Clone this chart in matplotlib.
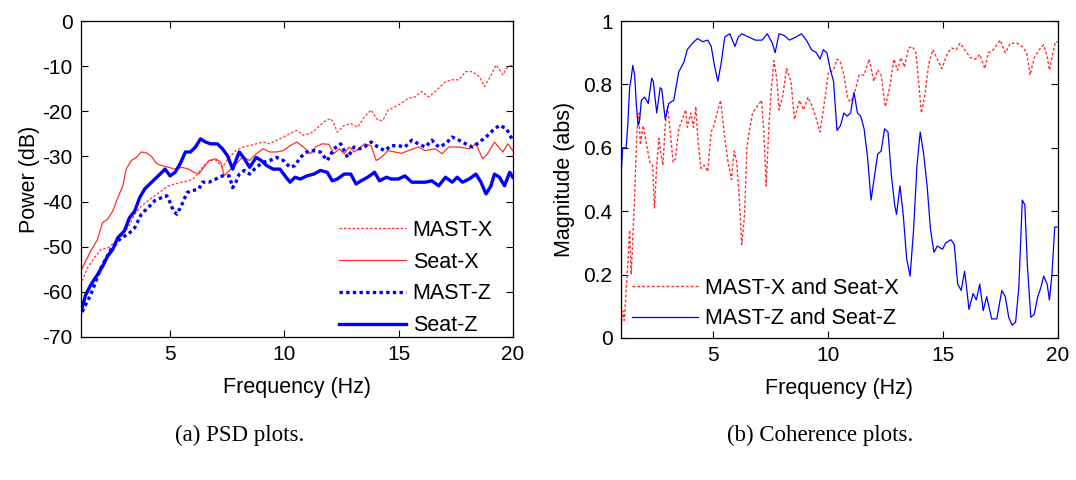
import matplotlib
matplotlib.use("Agg")
import matplotlib.pyplot as plt

# ---- (a) PSD data, dB vs Hz ----
seat_x_f = [1.08, 1.3, 1.52, 1.82, 2.04, 2.26, 2.49, 2.71, 2.93, 3.08, 3.3, 3.52, 3.74, 3.96, 4.19,
            4.41, 4.63, 4.93, 5.22, 5.52, 5.81, 6.04, 6.26, 6.48, 6.7, 7.0, 7.22, 7.37, 7.51, 7.74,
            7.96, 8.18, 8.48, 8.77, 9.07, 9.36, 9.66, 9.96, 10.25, 10.55, 10.84, 11.14, 11.36, 11.66, 11.95,
            12.17, 12.4, 12.62, 12.84, 13.06, 13.28, 13.5, 13.8, 14.02, 14.25, 14.54, 14.84, 15.13, 15.43, 15.87,
            16.17, 16.61, 16.91, 17.2, 17.65, 18.09, 18.39, 18.68, 18.9, 19.2, 19.57, 19.79, 20]
seat_x_db = [-55.5, -53.2, -51, -48.4, -44.7, -43.9, -42.1, -39.1, -36.5, -32.8, -30.9, -30.2, -29, -29.2, -30,
             -31.6, -32, -32.4, -32.8, -32.4, -32.8, -33.5, -33.9, -32.4, -30.9, -30.5, -31.3, -34.3, -33.5, -32.4,
             -31.3, -30.1, -30.9, -29.4, -28.3, -29, -29, -28.7, -27.6, -26.8, -27.9, -29.4, -27.9, -27.2, -27.3,
             -29.4, -28.3, -29.4, -27.9, -29, -28.3, -27.2, -27.6, -30.9, -30.2, -28.7, -29, -29.3, -28.7, -27.9,
             -28.7, -28.3, -29.4, -27.9, -27.9, -28.3, -27.2, -30.5, -29.4, -26.8, -29, -27.2, -28.7]

mast_x_f = [1.08, 1.38, 1.67, 1.97, 2.26, 2.56, 2.86, 3.15, 3.45, 3.74, 4.04, 4.33, 4.63, 4.93, 5.22,
            5.52, 5.81, 6.11, 6.41, 6.70, 7.00, 7.29, 7.59, 7.88, 8.18, 8.48, 8.77, 9.07, 9.36, 9.66,
            9.96, 10.25, 10.55, 10.84, 11.14, 11.43, 11.73, 12.03, 12.17, 12.32, 12.62, 12.91, 13.21, 13.51, 13.8,
            14.1, 14.32, 14.54, 14.84, 15.13, 15.43, 15.72, 16.02, 16.32, 16.61, 17.06, 17.35, 17.65, 17.94, 18.24,
            18.54, 18.76, 18.98, 19.27, 19.57, 19.79, 20]
mast_x_db = [-58.5, -54.7, -52.5, -50.6, -50.3, -49.1, -47.7, -45.8, -42.8, -41, -39.8, -38.7, -37.6, -36.5, -36.1,
             -35.7, -35.4, -34.6, -32.4, -30.9, -30.8, -32.4, -30.2, -28.7, -27.9, -27.6, -27.2, -26.8, -27.2, -26.4,
             -25.7, -24.9, -24.2, -25.3, -24.9, -23.8, -22.3, -21.6, -22.7, -24.6, -23.1, -22.7, -23.5, -21.2, -19.7,
             -22, -22, -19.7, -19, -18.2, -17.1, -16.8, -15.6, -16.8, -15.6, -13.4, -13, -13, -11.2, -11.2,
             -12.3, -14.5, -12.7, -9.7, -11.9, -10.1, -9.7]

mast_z_f = [1.15, 1.52, 1.97, 2.41, 2.86, 3.15, 3.45, 3.74, 4.04, 4.33, 4.63, 4.85, 5.0, 5.15, 5.3,
            5.52, 5.74, 5.96, 6.26, 6.41, 6.7, 7.0, 7.29, 7.59, 7.74, 7.88, 8.03, 8.25, 8.48, 8.77,
            9.07, 9.36, 9.66, 9.96, 10.25, 10.47, 10.7, 10.99, 11.29, 11.58, 11.88, 12.17, 12.47, 12.77, 13.06,
            13.28, 13.51, 13.8, 14.1, 14.39, 14.69, 14.99, 15.28, 15.58, 15.87, 16.17, 16.46, 16.76, 17.06, 17.35,
            17.65, 17.94, 18.24, 18.54, 18.83, 19.13, 19.42, 19.72, 20]
mast_z_db = [-64.4, -60.7, -54.7, -50.6, -48, -47.3, -45.8, -42.8, -41.3, -39.8, -39.1, -38.7, -40.2, -42.1, -42.8,
             -40.6, -38, -37.6, -37.2, -35.7, -35.7, -35, -34.3, -34.3, -36.9, -35.7, -33.9, -33.1, -33.9, -32.4,
             -31.3, -30.9, -30.2, -30.9, -32.4, -32, -30.2, -29, -28.7, -29, -30.9, -28.3, -27.2, -30.2, -27.9,
             -28.3, -27.9, -26.8, -27.9, -28.7, -27.6, -27.6, -27.9, -26.4, -27.2, -27.9, -26.4, -27.9, -27.2, -25.7,
             -26.4, -27.2, -27.9, -26.8, -25.7, -24.2, -23.1, -23.8, -26.4]

seat_z_f = [1.08, 1.3, 1.52, 1.82, 2.04, 2.26, 2.49, 2.71, 3.0, 3.22, 3.45, 3.67, 3.89, 4.19, 4.48,
            4.78, 5.0, 5.22, 5.44, 5.67, 5.89, 6.11, 6.33, 6.55, 6.78, 7.07, 7.29, 7.51, 7.74, 7.88,
            8.03, 8.25, 8.48, 8.77, 8.99, 9.22, 9.51, 9.81, 10.03, 10.25, 10.47, 10.7, 10.99, 11.29, 11.58,
            11.88, 12.1, 12.32, 12.62, 12.91, 13.14, 13.36, 13.65, 13.95, 14.17, 14.47, 14.69, 14.99, 15.28, 15.58,
            15.87, 16.17, 16.46, 16.76, 17.06, 17.35, 17.57, 17.8, 18.09, 18.39, 18.61, 18.83, 19.05, 19.2, 19.42,
            19.64, 19.87, 20]
seat_z_db = [-64.8, -60.7, -58.5, -56.2, -54.4, -52.1, -50.6, -48, -46.5, -43.6, -42.1, -39.1, -37.2, -35.7, -34.3,
             -32.8, -34.3, -33.5, -31.6, -29, -29, -27.9, -26.1, -26.8, -27.2, -27.2, -28.3, -29.8, -32.8, -30.9,
             -29, -30.5, -32.4, -30.2, -30.9, -32, -32.8, -32.8, -34.3, -35.7, -34.6, -35, -34.3, -33.9, -33.1,
             -33.5, -35.4, -35, -33.9, -33.9, -36.1, -35.4, -34.6, -33.5, -35.4, -34.6, -35, -35, -34.3, -35.7,
             -35.7, -35.7, -35.4, -36.5, -34.6, -35.7, -34.6, -35.7, -35, -33.9, -35.7, -38.3, -36.5, -33.9, -34.6,
             -36.5, -33.5, -34.6]

# ---- (b) coherence data ----
coh_z_f = [1.0, 1.08, 1.15, 1.23, 1.3, 1.38, 1.45, 1.52, 1.6, 1.67, 1.75, 1.82, 1.89, 2.04, 2.19,
           2.34, 2.41, 2.56, 2.71, 2.78, 2.93, 3.08, 3.3, 3.52, 3.74, 3.89, 4.11, 4.33, 4.56, 4.78,
           4.93, 5.07, 5.22, 5.37, 5.52, 5.74, 5.96, 6.11, 6.26, 6.55, 6.85, 7.14, 7.37, 7.59, 7.71,
           7.88, 8.1, 8.33, 8.62, 8.85, 9.07, 9.29, 9.51, 9.66, 9.81, 9.96, 10.1, 10.25, 10.4, 10.55,
           10.7, 10.84, 10.99, 11.14, 11.29, 11.43, 11.58, 11.73, 11.88, 12.03, 12.17, 12.32, 12.47, 12.62, 12.77,
           12.91, 12.99, 13.14, 13.28, 13.43, 13.58, 13.73, 13.88, 14.02, 14.17, 14.32, 14.47, 14.62, 14.76, 14.99,
           15.13, 15.36, 15.5, 15.65, 15.8, 15.95, 16.02, 16.14, 16.32, 16.46, 16.61, 16.76, 16.91, 17.13, 17.35,
           17.57, 17.72, 17.87, 18.02, 18.17, 18.31, 18.46, 18.57, 18.68, 18.83, 18.98, 19.13, 19.27, 19.39, 19.54,
           19.64, 19.75, 19.87, 20]
coh_z = [0.50, 0.60, 0.60, 0.60, 0.67, 0.79, 0.82, 0.86, 0.83, 0.74, 0.67, 0.69, 0.75, 0.76, 0.74,
         0.82, 0.81, 0.71, 0.79, 0.785, 0.69, 0.74, 0.75, 0.84, 0.87, 0.91, 0.93, 0.945, 0.935, 0.94,
         0.92, 0.86, 0.81, 0.87, 0.95, 0.96, 0.92, 0.95, 0.96, 0.95, 0.94, 0.94, 0.96, 0.93, 0.90,
         0.96, 0.955, 0.94, 0.95, 0.96, 0.94, 0.91, 0.90, 0.88, 0.91, 0.90, 0.85, 0.81, 0.655, 0.67,
         0.71, 0.70, 0.71, 0.775, 0.71, 0.70, 0.66, 0.57, 0.435, 0.51, 0.58, 0.59, 0.66, 0.65, 0.51,
         0.42, 0.39, 0.48, 0.39, 0.25, 0.195, 0.34, 0.545, 0.65, 0.58, 0.48, 0.34, 0.27, 0.29, 0.28,
         0.30, 0.31, 0.295, 0.17, 0.15, 0.21, 0.17, 0.09, 0.14, 0.12, 0.17, 0.086, 0.13, 0.06, 0.06,
         0.15, 0.13, 0.065, 0.04, 0.05, 0.16, 0.435, 0.42, 0.23, 0.065, 0.075, 0.13, 0.16, 0.195, 0.17,
         0.12, 0.20, 0.35, 0.35]

coh_x_f = [1.0, 1.08, 1.15, 1.23, 1.3, 1.38, 1.45, 1.52, 1.6, 1.7, 1.78, 1.85, 1.97, 2.12, 2.26,
           2.38, 2.46, 2.56, 2.66, 2.74, 2.83, 2.93, 3.03, 3.15, 3.27, 3.37, 3.52, 3.67, 3.82, 3.89,
           4.04, 4.16, 4.26, 4.36, 4.48, 4.63, 4.78, 4.93, 5.07, 5.22, 5.34, 5.49, 5.64, 5.81, 5.93,
           6.04, 6.15, 6.26, 6.38, 6.48, 6.58, 6.73, 6.92, 7.12, 7.22, 7.32, 7.44, 7.56, 7.66, 7.78,
           7.88, 8.03, 8.21, 8.4, 8.55, 8.77, 8.95, 9.14, 9.33, 9.51, 9.66, 9.81, 10.03, 10.25, 10.4,
           10.55, 10.7, 10.87, 10.99, 11.14, 11.36, 11.58, 11.8, 12.0, 12.17, 12.32, 12.5, 12.69, 12.88, 13.03,
           13.18, 13.33, 13.51, 13.68, 13.83, 13.95, 14.07, 14.22, 14.39, 14.57, 14.76, 14.96, 15.21, 15.4, 15.58,
           15.75, 15.95, 16.2, 16.43, 16.61, 16.83, 16.98, 17.2, 17.5, 17.72, 17.94, 18.24, 18.46, 18.65, 18.8,
           18.98, 19.2, 19.39, 19.54, 19.64, 19.79, 19.9, 20]
coh_x = [0.02, 0.085, 0.055, 0.15, 0.23, 0.34, 0.20, 0.32, 0.45, 0.65, 0.71, 0.61, 0.67, 0.61, 0.555,
         0.545, 0.41, 0.545, 0.63, 0.58, 0.545, 0.67, 0.73, 0.65, 0.555, 0.565, 0.66, 0.69, 0.72, 0.665,
         0.71, 0.665, 0.73, 0.62, 0.535, 0.545, 0.525, 0.65, 0.675, 0.72, 0.75, 0.65, 0.565, 0.50, 0.59,
         0.555, 0.44, 0.295, 0.39, 0.60, 0.65, 0.71, 0.73, 0.75, 0.65, 0.48, 0.67, 0.80, 0.875, 0.82,
         0.72, 0.76, 0.85, 0.81, 0.69, 0.75, 0.72, 0.76, 0.73, 0.69, 0.65, 0.72, 0.84, 0.845, 0.88,
         0.87, 0.83, 0.755, 0.745, 0.765, 0.83, 0.83, 0.88, 0.81, 0.845, 0.83, 0.73, 0.79, 0.88, 0.845,
         0.885, 0.855, 0.915, 0.92, 0.90, 0.81, 0.71, 0.765, 0.865, 0.91, 0.88, 0.85, 0.90, 0.915, 0.91,
         0.93, 0.91, 0.885, 0.88, 0.895, 0.85, 0.90, 0.91, 0.94, 0.90, 0.93, 0.93, 0.92, 0.90, 0.83,
         0.885, 0.91, 0.925, 0.89, 0.845, 0.90, 0.935, 0.935]

plt.rcParams['font.family'] = ['Liberation Sans', 'DejaVu Sans']
plt.rcParams['axes.unicode_minus'] = False

fig = plt.figure(figsize=(10.76, 4.8), dpi=100)

def style_axes(ax):
    ax.tick_params(direction='in', top=True, right=True, length=5, labelsize=15, pad=6)
    for s in ax.spines.values():
        s.set_linewidth(0.9)

# (a) PSD
ax1 = fig.add_axes([0.0753, 0.298, 0.4012, 0.658])
ax1.plot(mast_x_f, mast_x_db, color='#ff3030', lw=0.9, linestyle=(0, (2, 1.5)), label='MAST-X')
ax1.plot(seat_x_f, seat_x_db, color='#ff3030', lw=0.9, label='Seat-X')
ax1.plot(mast_z_f, mast_z_db, color='#0000ff', lw=2.4, linestyle=(0, (1, 1)), label='MAST-Z')
ax1.plot(seat_z_f, seat_z_db, color='#0000ff', lw=2.4, label='Seat-Z')
ax1.set_xlim(1.1, 20)
ax1.set_ylim(-70, 0)
ax1.set_xticks([5, 10, 15, 20])
ax1.set_yticks(range(-70, 1, 10))
ax1.set_xlabel('Frequency (Hz)', fontsize=15.5, labelpad=9)
ax1.set_ylabel('Power (dB)', fontsize=15.5, labelpad=2)
style_axes(ax1)
ax1.legend(loc='lower right', frameon=False, fontsize=15.5, handlelength=3.1,
           handletextpad=0.33, labelspacing=0.5, borderaxespad=0.0,
           bbox_to_anchor=(0.974, -0.025))

# (b) coherence
ax2 = fig.add_axes([0.577, 0.296, 0.406, 0.66])
ax2.plot(coh_x_f, coh_x, color='#ff3030', lw=1.0, linestyle=(0, (2, 1.5)), label='MAST-X and Seat-X')
ax2.plot(coh_z_f, coh_z, color='#0000ff', lw=0.9, label='MAST-Z and Seat-Z')
ax2.set_xlim(1, 20)
ax2.set_ylim(0, 1)
ax2.set_xticks([5, 10, 15, 20])
ax2.set_yticks([0, 0.2, 0.4, 0.6, 0.8, 1])
ax2.set_yticklabels(['0', '0.2', '0.4', '0.6', '0.8', '1'])
ax2.set_xlabel('Frequency (Hz)', fontsize=15.5, labelpad=9)
ax2.set_ylabel('Magnitude (abs)', fontsize=15.5, labelpad=6)
style_axes(ax2)
ax2.legend(loc='lower left', frameon=False, fontsize=15.5, handlelength=3.1,
           handletextpad=0.33, labelspacing=0.45, borderaxespad=0.0,
           bbox_to_anchor=(0.005, 0.0))

fig.text(0.223, 0.092, '(a) PSD plots.', ha='center', va='center',
         fontsize=16.5, family=['Liberation Serif', 'DejaVu Serif'])
fig.text(0.762, 0.092, '(b) Coherence plots.', ha='center', va='center',
         fontsize=16.5, family=['Liberation Serif', 'DejaVu Serif'])

fig.savefig('out.png', dpi=100)
